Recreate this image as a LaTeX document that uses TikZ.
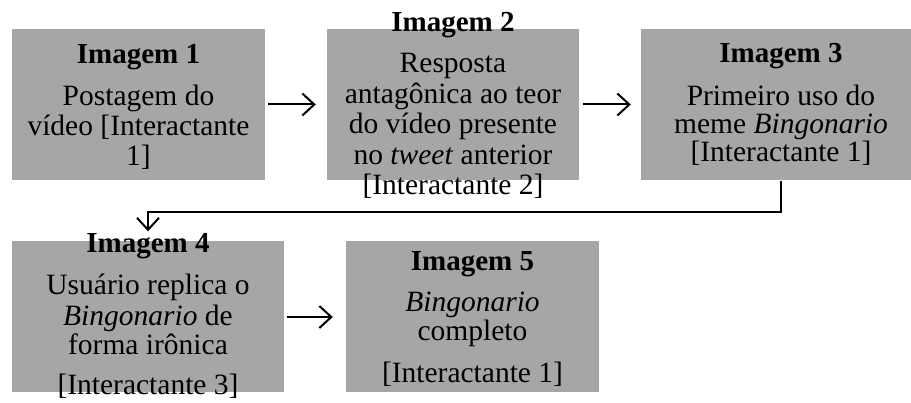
\documentclass[tikz,border=0pt]{standalone}
\usepackage{fontspec}
\setmainfont{Liberation Serif}
\usetikzlibrary{arrows.meta}
\definecolor{boxgray}{HTML}{A6A6A6}
\tikzset{
  stage/.style={fill=boxgray, draw=none, inner sep=0pt, minimum width=#1, minimum height=151pt},
  ttl/.style={anchor=base, inner sep=0pt, font=\fontsize{29}{30}\selectfont\bfseries},
  txt/.style={anchor=base, inner sep=0pt, font=\fontsize{29.5}{30}\selectfont},
  flow/.style={line width=2pt, -{Straight Barb[length=12pt,width=22pt,line width=2pt]}}
}
\begin{document}
\begin{tikzpicture}[x=1pt,y=-1pt]
\useasboundingbox (0,0) rectangle (911,403);

% stage boxes
\node[stage=253pt] (b1) at (138.5,104.5) {};
\node[stage=252pt] (b2) at (453,104.5) {};
\node[stage=280pt] (b3) at (781,104.5) {};
\node[stage=272pt] (b4) at (148,317) {};
\node[stage=253pt] (b5) at (472.5,317) {};

% stage 1
\node[ttl] (t1) at (138.5,64) {Imagem 1};
\node[txt] (t1a) at (138.5,106) {Postagem do};
\node[txt] (t1b) at (138.5,136) {vídeo [Interactante};
\node[txt] (t1c) at (138.5,166) {1]};

% stage 2
\node[ttl] (t2) at (453,32) {Imagem 2};
\node[txt] (t2a) at (453,73) {Resposta};
\node[txt] (t2b) at (453,103.5) {antagônica ao teor};
\node[txt] (t2c) at (453,134) {do vídeo presente};
\node[txt] (t2d) at (453,164.5) {no \textit{tweet} anterior};
\node[txt] (t2e) at (453,195) {[Interactante 2]};

% stage 3
\node[ttl] (t3) at (781,63) {Imagem 3};
\node[txt] (t3a) at (781,106) {Primeiro uso do};
\node[txt] (t3b) at (781,134) {meme \textit{Bingonario}};
\node[txt] (t3c) at (781,162) {[Interactante 1]};

% stage 4
\node[ttl] (t4) at (148,253) {Imagem 4};
\node[txt] (t4a) at (148,295) {Usuário replica o};
\node[txt] (t4b) at (148,326) {\textit{Bingonario} de};
\node[txt] (t4c) at (148,355) {forma irônica};
\node[txt] (t4d) at (148,395) {[Interactante 3]};

% stage 5
\node[ttl] (t5) at (472.5,271) {Imagem 5};
\node[txt] (t5a) at (472.5,312) {\textit{Bingonario}};
\node[txt] (t5b) at (472.5,341) {completo};
\node[txt] (t5c) at (472.5,383) {[Interactante 1]};

% connectors
\draw[flow] ([xshift=3pt]b1.east) -- ([xshift=-11pt]b2.west);
\draw[flow] ([xshift=4pt]b2.east) -- ([xshift=-10pt]b3.west);
\draw[flow] ([yshift=-1pt]b3.south) -- ++(0,31) -| ([yshift=10pt]b4.north);
\draw[flow] ([xshift=3pt]b4.east) -- ([xshift=-13pt]b5.west);
\end{tikzpicture}
\end{document}
